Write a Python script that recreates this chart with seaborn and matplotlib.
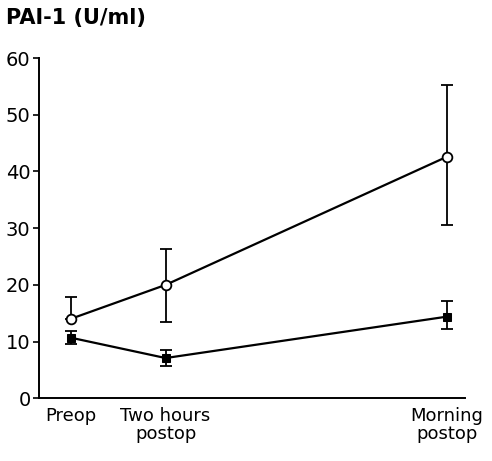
import matplotlib
matplotlib.use("Agg")
import matplotlib.pyplot as plt
import seaborn as sns
import pandas as pd
import numpy as np

# time points (hours after preop sample) and labels
timepoints = [0, 2, 7.92]
tick_labels = ["Preop", "Two hours\npostop", "Morning\npostop"]

# open circles
open_mean = [14.0, 20.0, 42.6]
open_low = [14.0, 13.5, 30.6]
open_high = [17.8, 26.4, 55.3]

# filled squares
filled_mean = [10.7, 7.1, 14.4]
filled_low = [9.6, 5.7, 12.2]
filled_high = [11.9, 8.5, 17.1]

sns.set_style("ticks")
plt.rcParams["font.family"] = ["DejaVu Sans"]
plt.rcParams["text.color"] = "black"
plt.rcParams["xtick.color"] = "black"
plt.rcParams["ytick.color"] = "black"

fig = plt.figure(figsize=(4.92, 4.61), dpi=100)
ax = fig.add_axes([0.079, 0.136, 0.866, 0.738])

df = pd.DataFrame({
    "time": timepoints * 2,
    "value": open_mean + filled_mean,
    "group": ["open"] * 3 + ["filled"] * 3,
})

# error bars first so markers sit on top
for mean, low, high in [(open_mean, open_low, open_high),
                        (filled_mean, filled_low, filled_high)]:
    m = np.array(mean)
    yerr = [m - np.array(low), np.array(high) - m]
    ax.errorbar(timepoints, m, yerr=yerr, fmt="none", ecolor="black",
                elinewidth=1.3, capsize=4, capthick=1.3, zorder=2)

sns.lineplot(data=df[df.group == "open"], x="time", y="value", ax=ax,
             color="black", linewidth=1.6, marker="o", markersize=7,
             markerfacecolor="white", markeredgecolor="black",
             markeredgewidth=1.3, zorder=3)
sns.lineplot(data=df[df.group == "filled"], x="time", y="value", ax=ax,
             color="black", linewidth=1.6, marker="s", markersize=6,
             markerfacecolor="black", markeredgecolor="black", zorder=3)

ax.set_xlim(-0.667, 8.30)
ax.set_ylim(0, 60)
ax.set_yticks(range(0, 61, 10))
ax.set_xticks(timepoints)
ax.set_xticklabels(tick_labels, fontsize=13, linespacing=1.0)
ax.tick_params(axis="y", labelsize=14, length=4, width=1.2, pad=2)
ax.tick_params(axis="x", length=0, pad=6)
ax.set_xlabel("")
ax.set_ylabel("")
sns.despine(ax=ax)
for s in ["left", "bottom"]:
    ax.spines[s].set_linewidth(1.4)
    ax.spines[s].set_color("black")

fig.text(0.012, 0.962, "PAI-1 (U/ml)", fontsize=15, fontweight="bold",
         ha="left", va="center", color="black")

fig.savefig("out.png", dpi=100)
